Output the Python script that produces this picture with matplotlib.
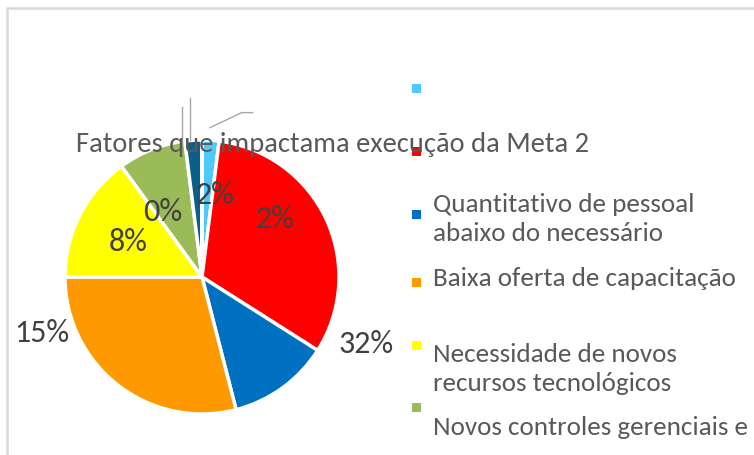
import matplotlib
matplotlib.use("Agg")
import matplotlib.pyplot as plt
from matplotlib.patches import Rectangle
import numpy as np

# data ---------------------------------------------------------------
slice_values = [2, 32, 12, 29, 15, 8, 2, 0.001]
slice_colors = ['#4FC9F7', '#FF0000', '#0070C0', '#FF9900',
                '#FFFF00', '#9BBB59', '#0B5F8A', '#A6A6A6']
pct_labels = ['2%', '2%', '32%', '15%', '8%', '0%']
legend_labels = ['', '',
                 'Quantitativo de pessoal\nabaixo do necessário',
                 'Baixa oferta de capacitação',
                 'Necessidade de novos\nrecursos tecnológicos',
                 'Novos controles gerenciais e']
title = 'Fatores que impactama execução da Meta 2'

# layout (pixels) ----------------------------------------------------
W, H = 754, 456
CX, CY, R = 202, 278, 137
# where the percent labels sit (polar around pie centre, in radii)
label_polar = [(9, 0.61), (51, 0.69), (112, 1.29), (251, 1.24), (296, 0.60), (329, 0.56)]
legend_marker_y = [89, 152, 215, 283, 346, 408]
legend_text_y = [89, 152, 219, 278, 369, 428]
FONT = ['Carlito', 'DejaVu Sans']

fig = plt.figure(figsize=(W / 100, H / 100), dpi=100)

def fx(px):
    return px / W

def fy(py):
    return 1 - py / H

# chart border (top + left visible)
fig.add_artist(Rectangle((fx(7), -0.2), 1.2, fy(8.5) + 0.2, transform=fig.transFigure,
                         fill=False, edgecolor='#D9D9D9', lw=1.8))

span = 1.5
ax = fig.add_axes([fx(CX - span * R), fy(CY + span * R), 2 * span * R / W, 2 * span * R / H])

wedges, _ = ax.pie(slice_values, colors=slice_colors, startangle=90, counterclock=False,
                   radius=1, wedgeprops=dict(edgecolor='white', linewidth=2.5))
ax.set_xlim(-span, span)
ax.set_ylim(-span, span)
ax.set_axis_off()

# leader lines of the tiny slices
ax.plot([-0.146, -0.146], [0.97, 1.24], color='#A6A6A6', lw=1)
ax.plot([-0.088, -0.088], [1.0, 1.31], color='#A6A6A6', lw=1)
ax.plot([0.058, 0.29, 0.37], [1.09, 1.20, 1.20], color='#A6A6A6', lw=1)

for txt, (ang, rr) in zip(pct_labels, label_polar):
    a = np.deg2rad(90 - ang)
    ax.text(rr * np.cos(a), rr * np.sin(a), txt, ha='center', va='center',
            fontsize=23, color='#404040', family=FONT)

# title (overlapping, as in the original)
fig.text(fx(333), fy(145), title, ha='center', va='center', fontsize=20.5,
         color='#595959', family=FONT)

# legend drawn by hand
for i, (lab, col) in enumerate(zip(legend_labels, slice_colors)):
    my = legend_marker_y[i]
    fig.add_artist(Rectangle((fx(412), fy(my + 4.5)), fx(9), 9 / H, transform=fig.transFigure,
                             facecolor=col, edgecolor='none'))
    if lab:
        fig.text(fx(433), fy(legend_text_y[i]), lab, ha='left', va='center', fontsize=19.5,
                 color='#595959', family=FONT, linespacing=1.35)

fig.savefig('out.png', dpi=100)
